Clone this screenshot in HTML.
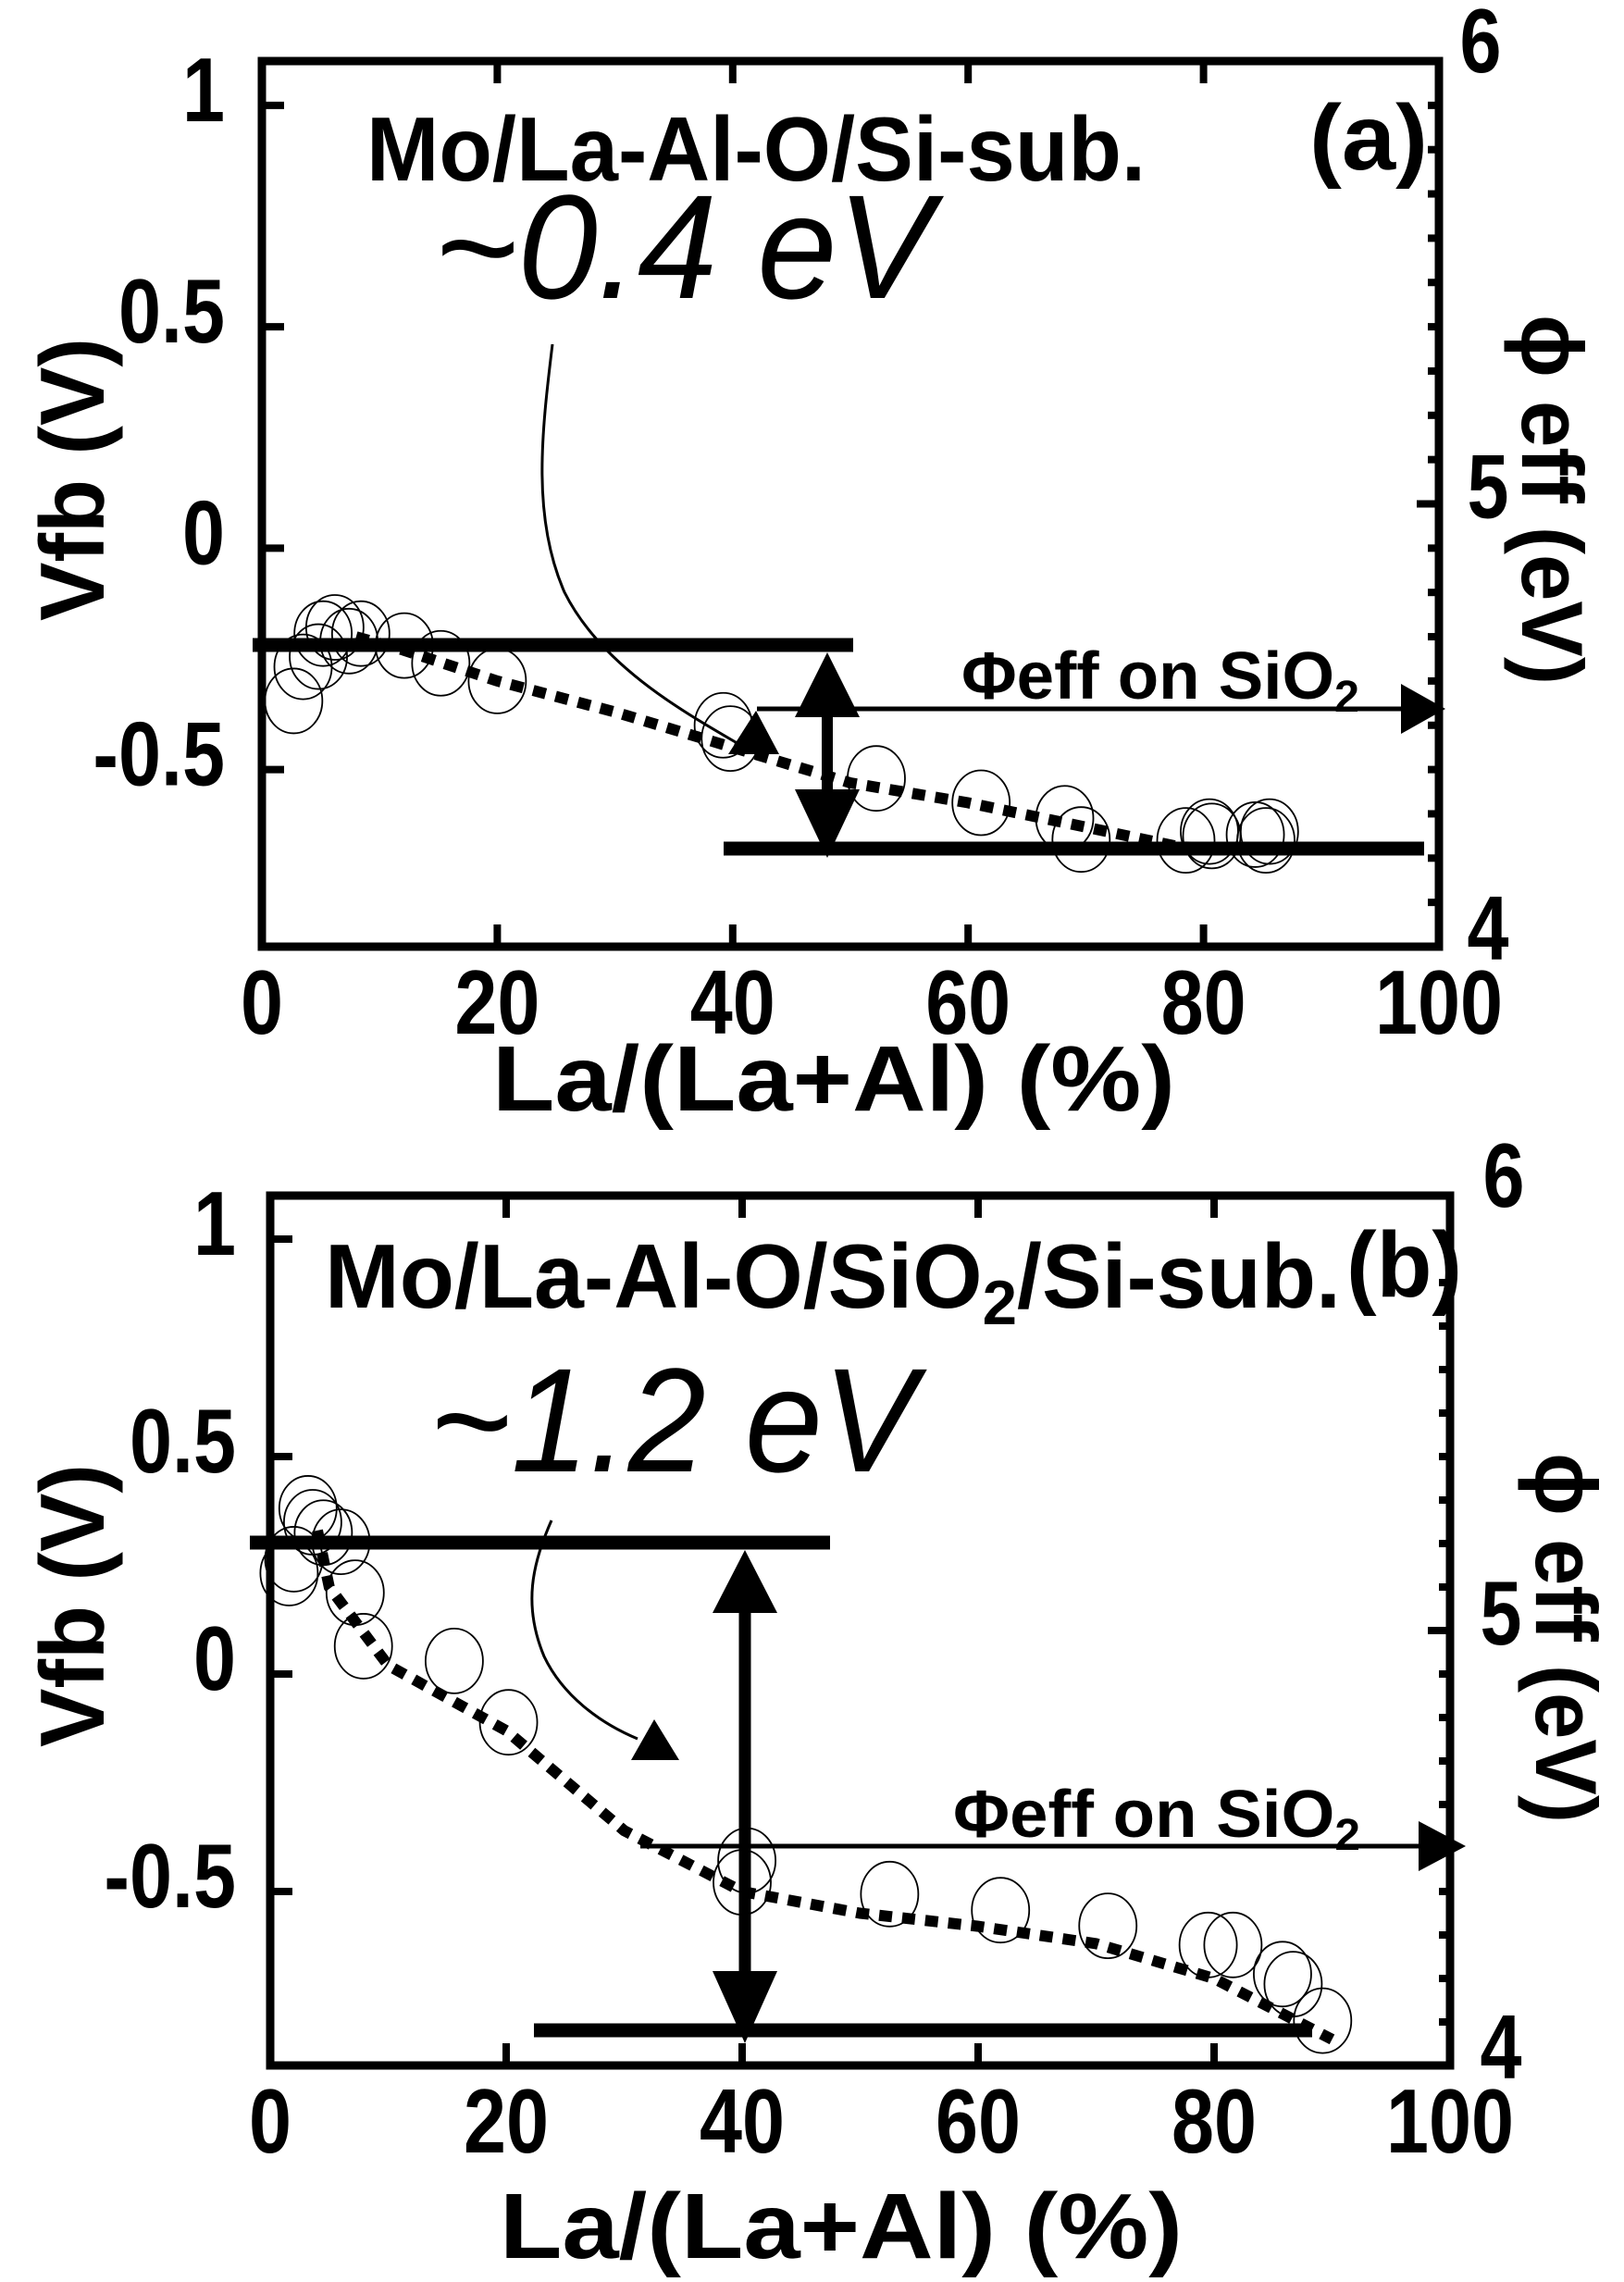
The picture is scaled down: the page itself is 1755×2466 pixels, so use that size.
<!DOCTYPE html>
<html><head><meta charset="utf-8"><style>
html,body{margin:0;padding:0;background:#fff;}
svg{display:block;font-family:"Liberation Sans",Arial,sans-serif;}
</style></head><body>
<svg id="fig" width="1755" height="2466" viewBox="0 0 1755 2466" xmlns="http://www.w3.org/2000/svg">
<rect x="0" y="0" width="1755" height="2466" fill="#fff"/>
<g id="pa"></g>
<g id="pb"></g>
</svg>
<script>
// ---- data ----
const xTicks = [0, 20, 40, 60, 80, 100];
const xTickLabels = ["0", "20", "40", "60", "80", "100"];
const yTicks = [1, 0.5, 0, -0.5];
const yTickLabels = ["1", "0.5", "0", "-0.5"];
const phiLabels = ["4", "5", "6"];
const aX = [2.7, 3.5, 4.8, 5.2, 6.2, 7.4, 8.4, 12.1, 15.2, 20, 39.2, 39.8, 52.2, 61.1, 68.2, 69.6, 78.5, 80.5, 80.7, 84.4, 85.6, 85.3];
const aY = [-0.345, -0.268, -0.245, -0.193, -0.179, -0.21, -0.193, -0.22, -0.26, -0.30, -0.40, -0.43, -0.52, -0.575, -0.61, -0.658, -0.66, -0.64, -0.65, -0.647, -0.64, -0.66];
const aLineX = [8, 12, 20, 30, 40, 50, 60, 70, 78, 90];
const aLineY = [-0.20, -0.23, -0.30, -0.37, -0.45, -0.53, -0.575, -0.63, -0.675, -0.68];
const bX = [1.6, 2.0, 3.2, 3.6, 4.5, 6.0, 7.2, 7.9, 15.6, 20.2, 40.4, 40.0, 52.5, 61.9, 71.0, 79.5, 81.6, 85.8, 86.7, 89.2];
const bY = [0.232, 0.264, 0.381, 0.349, 0.325, 0.304, 0.187, 0.064, 0.03, -0.111, -0.429, -0.479, -0.506, -0.543, -0.579, -0.623, -0.623, -0.69, -0.713, -0.797];
const bLineX = [4, 5, 10, 20, 30, 40, 50, 60, 70, 80, 90];
const bLineY = [0.33, 0.2, 0.02, -0.13, -0.36, -0.5, -0.55, -0.58, -0.62, -0.70, -0.84];

const NS = "http://www.w3.org/2000/svg";
function mk(parent, tag, attrs, txt) {
  const e = document.createElementNS(NS, tag);
  for (const k in attrs) e.setAttribute(k, attrs[k]);
  if (txt !== undefined) e.textContent = txt;
  parent.appendChild(e);
  return e;
}
function digitsWidth(s, w) {
  let t = 0;
  for (const c of s) t += (c === "." ? 0.5 : (c === "-" ? 0.6 : 1)) * w;
  return t;
}

function panel(g, P) {
  const X = v => P.x0 + (P.x1 - P.x0) * v / 100;
  const Y = v => P.yTop + (1.1 - v) * (P.yBot - P.yTop) / 2.0;
  const fr = mk(g, "rect", {x: P.x0, y: P.yTop, width: P.x1 - P.x0, height: P.yBot - P.yTop, fill: "none", stroke: "#000", "stroke-width": 9});
  
  
  xTicks.forEach((t, i) => {
    if (t > 0 && t < 100) {
      const a = mk(g, "line", {x1: X(t), x2: X(t), y1: P.yBot, y2: P.yBot - 24, stroke: "#000", "stroke-width": 8});
      
      
      const b = mk(g, "line", {x1: X(t), x2: X(t), y1: P.yTop, y2: P.yTop + 24, stroke: "#000", "stroke-width": 8});
      
      
    }
    const s = xTickLabels[i];
    const tl = mk(g, "text", {x: X(t), y: P.yBot + 94, "text-anchor": "middle", "font-size": 98, "font-weight": "bold", textLength: digitsWidth(s, 46), lengthAdjust: "spacingAndGlyphs"}, s);
    
    
  });
  yTicks.forEach((t, i) => {
    const a = mk(g, "line", {x1: P.x0, x2: P.x0 + 24, y1: Y(t), y2: Y(t), stroke: "#000", "stroke-width": 8});
    
    
    const s = yTickLabels[i];
    const tl = mk(g, "text", {x: P.labEnd, y: Y(t) + 17, "text-anchor": "end", "font-size": 98, "font-weight": "bold", textLength: digitsWidth(s, 46), lengthAdjust: "spacingAndGlyphs"}, s);
    
    
  });
  for (let k = 1; k < 20; k++) {
    const v = -0.9 + k * 0.1;
    const len = (k === 10) ? 24 : 12;
    const a = mk(g, "line", {x1: P.x1, x2: P.x1 - len, y1: Y(v), y2: Y(v), stroke: "#000", "stroke-width": 8});
    
    
  }
  phiLabels.forEach((s, i) => {
    const yy = [P.yBot + 14, Y(0.1) + 15, P.yTop + 12][i];
    const t = mk(g, "text", {x: P.rLabX[i], y: yy, "text-anchor": "middle", "font-size": 98, "font-weight": "bold", textLength: 45, lengthAdjust: "spacingAndGlyphs"}, s);
    
    
  });
  const xt = mk(g, "text", {x: P.xTitleX, y: P.xTitleY, "font-size": 100, "font-weight": "bold", textLength: 738, lengthAdjust: "spacingAndGlyphs"}, "La/(La+Al) (%)");
  
  
  const yt = mk(g, "text", {x: 0, y: 0, "font-size": 98, "font-weight": "bold", "text-anchor": "middle", textLength: 306, lengthAdjust: "spacingAndGlyphs", transform: `translate(${P.yTitleX},${P.yTitleY}) rotate(-90)`}, "Vfb (V)");
  
  
  const rt = mk(g, "text", {x: 0, y: 0, "font-size": 94, "font-weight": "bold", "text-anchor": "middle", textLength: 400, lengthAdjust: "spacingAndGlyphs", transform: `translate(${P.rTitleX},${P.rTitleY}) rotate(90)`}, "\u03d5 eff (eV)");
  
  

  let d = "";
  P.lx.forEach((v, i) => { d += (i ? " L" : "M") + X(v).toFixed(1) + " " + Y(P.ly[i]).toFixed(1); });
  const tl = mk(g, "path", {d: d, fill: "none", stroke: "#000", "stroke-width": 12, "stroke-dasharray": "14 11"});
  
  
  P.px.forEach((v, i) => {
    const c = mk(g, "ellipse", {cx: X(v), cy: Y(P.py[i]), rx: 31, ry: 35, fill: "none", stroke: "#000", "stroke-width": 1.8});
    
    
  });
}

const ga = document.getElementById("pa");
panel(ga, {x0: 283, x1: 1555, yTop: 66, yBot: 1023, labEnd: 243, rLabX: [1608, 1608, 1600],
  xTitleX: 532, xTitleY: 1200, yTitleX: 112, yTitleY: 518, rTitleX: 1645, rTitleY: 540,
  px: aX, py: aY, lx: aLineX, ly: aLineY});
const gb = document.getElementById("pb");
panel(gb, {x0: 292, x1: 1567, yTop: 1292, yBot: 2232, labEnd: 255, rLabX: [1622, 1622, 1625],
  xTitleX: 540, xTitleY: 2440, yTitleX: 112, yTitleY: 1735, rTitleX: 1660, rTitleY: 1770,
  px: bX, py: bY, lx: bLineX, ly: bLineY});
</script>
<svg style="position:absolute;left:0;top:0" width="1755" height="2466" viewBox="0 0 1755 2466" xmlns="http://www.w3.org/2000/svg" font-family="Liberation Sans, Arial, sans-serif">
  <!-- panel a -->
  <text x="396" y="195" font-size="98" font-weight="bold" textLength="842" lengthAdjust="spacingAndGlyphs">Mo/La-Al-O/Si-sub.</text>
  <text x="1415" y="183" font-size="100" font-weight="bold" textLength="128" lengthAdjust="spacingAndGlyphs">(a)</text>
  <text x="469" y="322" font-size="160" font-style="italic" textLength="539" lengthAdjust="spacingAndGlyphs">~0.4 eV</text>
  <path d="M597 372 C 585 470, 575 560, 610 640 C 650 720, 740 770, 800 805" fill="none" stroke="#000" stroke-width="3"/>
  <polygon points="817,768 787,815 842,815" fill="#000"/>
  <line x1="273" y1="697" x2="922" y2="697" stroke="#000" stroke-width="15"/>
  <line x1="782" y1="917" x2="1539" y2="917" stroke="#000" stroke-width="15"/>
  <line x1="894" y1="770" x2="894" y2="860" stroke="#000" stroke-width="12"/>
  <polygon points="894,705 859,775 929,775" fill="#000"/>
  <polygon points="894,927 859,853 929,853" fill="#000"/>
  <line x1="818" y1="766" x2="1520" y2="766" stroke="#000" stroke-width="5"/>
  <polygon points="1562,766 1514,739 1514,793" fill="#000"/>
  <text x="1039" y="755" font-size="72" font-weight="bold" textLength="430" lengthAdjust="spacingAndGlyphs">Φeff on SiO<tspan font-size="48" dy="14">2</tspan></text>
  <!-- panel b -->
  <text x="351" y="1413" font-size="98" font-weight="bold" textLength="1098" lengthAdjust="spacingAndGlyphs">Mo/La-Al-O/SiO<tspan font-size="68" dy="18">2</tspan><tspan dy="-18">/Si-sub.</tspan></text>
  <text x="1455" y="1401" font-size="100" font-weight="bold" textLength="125" lengthAdjust="spacingAndGlyphs">(b)</text>
  <text x="464" y="1590" font-size="160" font-style="italic" textLength="526" lengthAdjust="spacingAndGlyphs">~1.2 eV</text>
  <path d="M596 1643 C 575 1690, 565 1735, 588 1790 C 608 1832, 648 1862, 689 1879" fill="none" stroke="#000" stroke-width="3"/>
  <polygon points="707,1858 682,1902 734,1902" fill="#000"/>
  <line x1="270" y1="1667" x2="897" y2="1667" stroke="#000" stroke-width="15"/>
  <line x1="577" y1="2194" x2="1418" y2="2194" stroke="#000" stroke-width="15"/>
  <line x1="805" y1="1735" x2="805" y2="2138" stroke="#000" stroke-width="13"/>
  <polygon points="805,1675 770,1743 840,1743" fill="#000"/>
  <polygon points="805,2208 770,2130 840,2130" fill="#000"/>
  <line x1="692" y1="1995" x2="1540" y2="1995" stroke="#000" stroke-width="5"/>
  <polygon points="1584,1995 1533,1968 1533,2022" fill="#000"/>
  <text x="1030" y="1985" font-size="72" font-weight="bold" textLength="440" lengthAdjust="spacingAndGlyphs">Φeff on SiO<tspan font-size="48" dy="14">2</tspan></text>
</svg>
</body></html>
